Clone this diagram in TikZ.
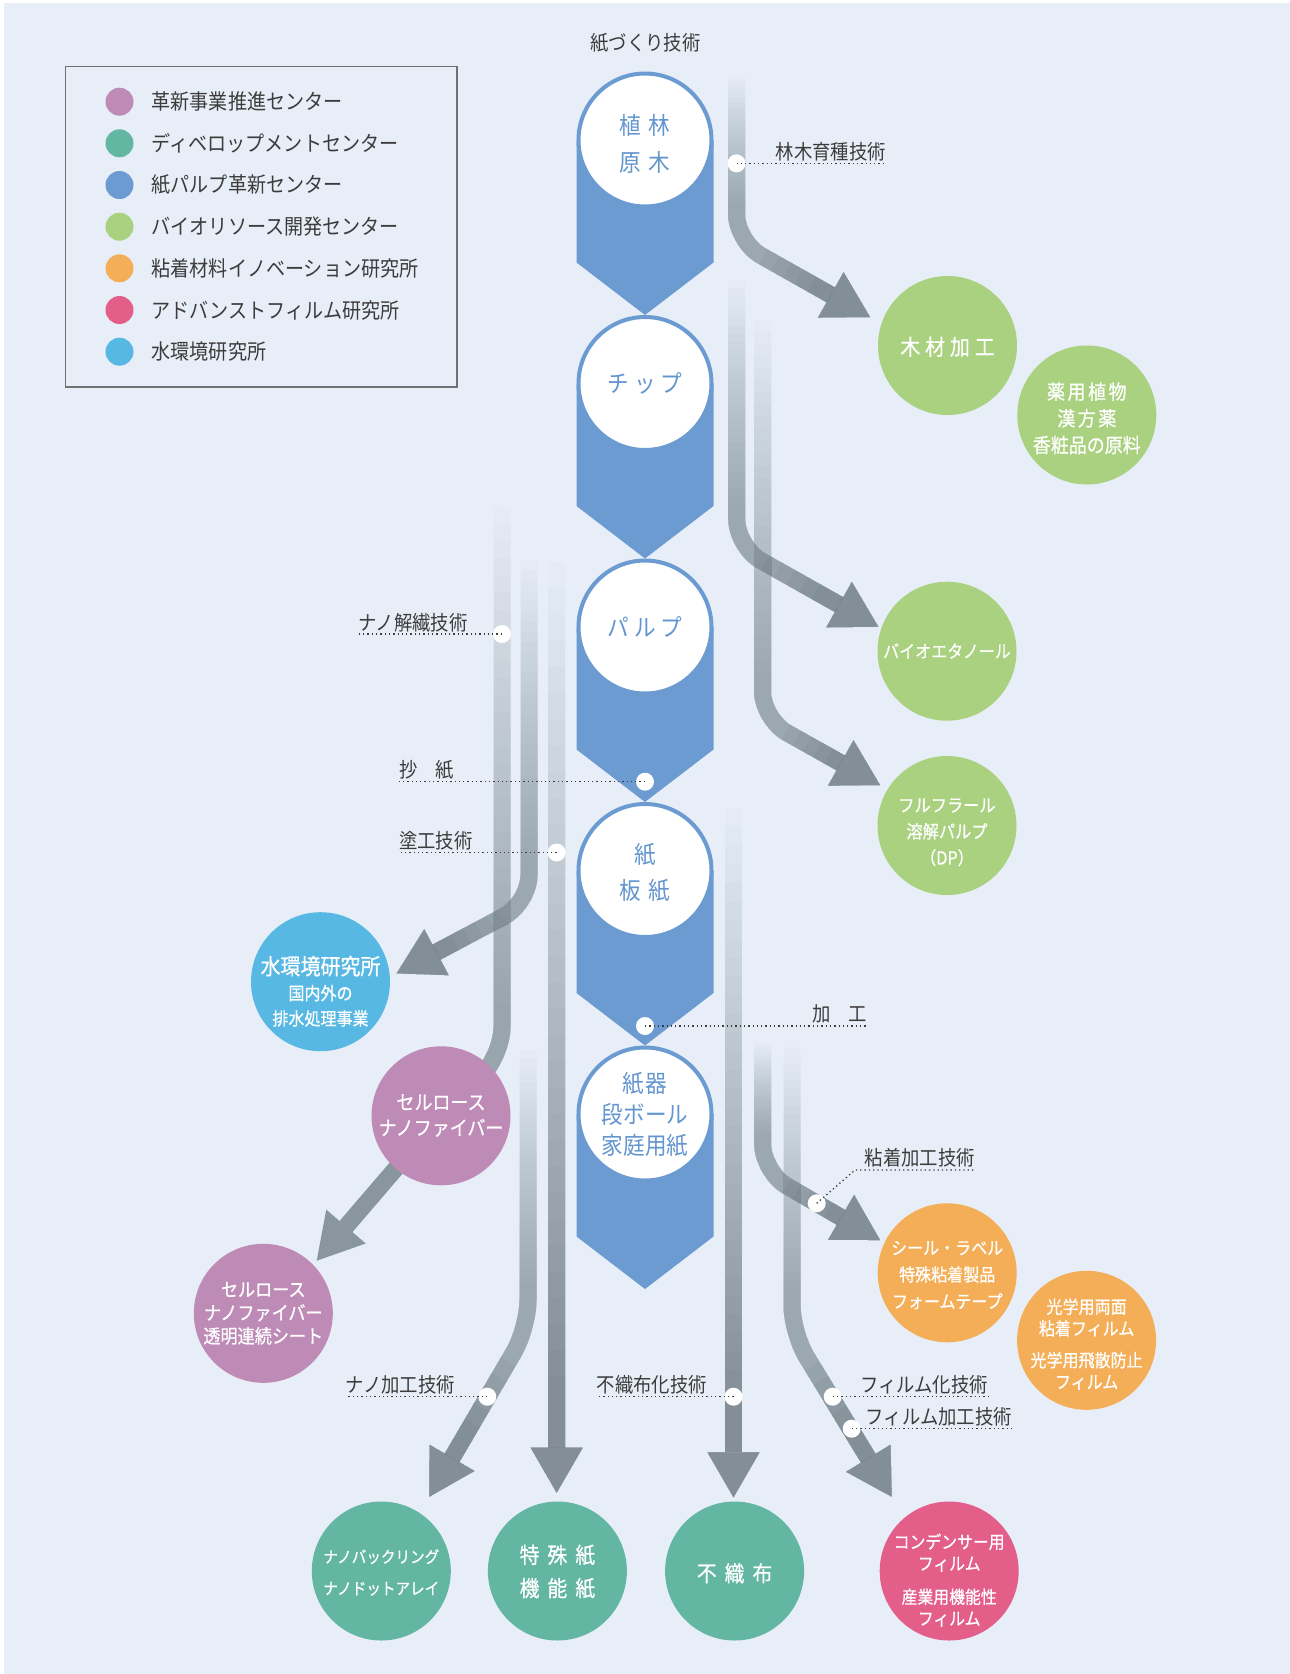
\documentclass[tikz,border=0pt]{standalone}
\usepackage{fontspec}
\newfontfamily\jp[FakeStretch=0.9]{Noto Sans CJK JP}
\newfontfamily\jpb[FakeStretch=0.9,FakeBold=0.7]{Noto Sans CJK JP}
\usetikzlibrary{arrows.meta,calc}
\definecolor{bgc}{HTML}{E8EEF8}
\definecolor{labc}{HTML}{3C3C3C}
\definecolor{boxc}{HTML}{707070}
\definecolor{bluec}{HTML}{6B9BD1}
\definecolor{bluetxt}{HTML}{6395CF}
\definecolor{greenc}{HTML}{A9D180}
\definecolor{cyanc}{HTML}{57B8E3}
\definecolor{purplec}{HTML}{BE8AB6}
\definecolor{orangec}{HTML}{F4AE57}
\definecolor{tealc}{HTML}{62B6A2}
\definecolor{pinkc}{HTML}{E45E8A}
\definecolor{bandc}{HTML}{76838A}
\newcommand\jpfs[2]{\fontsize{#1}{#2}\selectfont}
% bent band: #1 start, #2 corner, #3 tip
\newcommand\mkband[3]{%
  \foreach \k in {0,...,29}{%
    \pgfmathsetmacro\bop{(0.6/30)/(1-0.6*\k/30)}%
    \draw[bandlayer, tipped, opacity=\bop] ($(#1)!\k/30!($(#2)+(0,-35)$)$) -- (#2) -- (#3);
  }%
  \foreach \j/\f in {0/0.2,1/0.29,2/0.38,3/0.47,4/0.56}{%
    \pgfmathsetmacro\bop{(0.25/5)/(1-0.6-0.25*\j/5)}%
    \draw[bandlayer, tipped, opacity=\bop] ($(#2)!\f!(#3)$) -- (#3);
  }%
}
% straight band: #1 start, #2 tip
\newcommand\mkstraight[2]{%
  \foreach \k in {0,...,31}{%
    \pgfmathsetmacro\bop{(0.85/32)/(1-0.85*\k/32)}%
    \draw[bandlayer, tipped, opacity=\bop] ($(#1)!\k/32!($(#2)+(0,-90)$)$) -- (#2);
  }%
}
% feeding band without tip: #1 start, #2 corner, #3 end
\newcommand\mkfeed[3]{%
  \foreach \k in {0,...,29}{%
    \pgfmathsetmacro\bop{(0.62/30)/(1-0.62*\k/30)}%
    \draw[bandlayer, opacity=\bop] ($(#1)!\k/30!($(#2)+(0,-35)$)$) -- (#2) -- (#3);
  }%
}
\begin{document}
\begin{tikzpicture}[x=1pt,y=-1pt,
  lbl/.style={inner sep=0pt, text=labc, font={\jp\jpfs{20.4}{24}}},
  legtxt/.style={inner sep=0pt, anchor=west, text=labc, font={\jp\jpfs{21.2}{24}}},
  legdot/.style={circle, inner sep=0pt, minimum size=28pt},
  bub/.style={circle, inner sep=0pt, minimum size=139pt},
  btxt/.style={inner sep=0pt, text=white, align=center},
  stage/.style={circle, inner sep=0pt, minimum size=133pt, fill=white, draw=bluec, line width=4pt},
  stxt/.style={inner sep=0pt, text=bluetxt, align=center},
  wdot/.style={circle, fill=white, inner sep=0pt, minimum size=18pt},
  leader/.style={draw=labc, line width=1.3pt, dash pattern=on 1.3pt off 3pt},
  bandlayer/.style={draw=bandc, line width=17pt, rounded corners=28pt},
  tipped/.style={-{Triangle[width=52pt,length=45pt,line width=0pt]}},
]
\useasboundingbox (0,0) rectangle (1290,1674);
\fill[white] (0,0) rectangle (1290,1674);
\fill[bgc] (4,3) rectangle (1290,1674);

% legend
\draw[boxc, line width=1.2pt] (65.5,66.7) rectangle (457,387);
\foreach \yy/\cc/\lbtext [count=\i] in {101.7/purplec/革新事業推進センター,
  143.3/tealc/ディベロップメントセンター, 185/bluec/紙パルプ革新センター,
  226.7/greenc/バイオリソース開発センター, 268.3/orangec/粘着材料イノベーション研究所,
  310/pinkc/アドバンストフィルム研究所, 351.7/cyanc/水環境研究所}{
  \node[legdot, fill=\cc] (ld\i) at (119.5,\yy) {};
  \node[legtxt] (lt\i) at (151.5,\yy) {\lbtext};
}

% band coordinates
\coordinate (As) at (736.5,76);   \coordinate (Ac) at (736.5,241.7); \coordinate (At) at (870,317);
\coordinate (Bs) at (736.7,280);  \coordinate (Bc) at (736.7,547);   \coordinate (Bt) at (878.3,626.7);
\coordinate (Cs) at (762.5,320);  \coordinate (Cc) at (762.5,719);   \coordinate (Ct) at (880,785);
\coordinate (Ds) at (502,507);    \coordinate (Dc) at (502,1055);
\coordinate (Es) at (529,560);    \coordinate (Ec) at (529,903);     \coordinate (Et) at (396.7,973.3);
\coordinate (Fs) at (556.7,562);  \coordinate (Ft) at (556.7,1492.7);
\coordinate (Gs) at (528,1050);   \coordinate (Gc) at (528,1328);    \coordinate (Gt) at (429.3,1496.7);
\coordinate (Hs) at (733.5,808);  \coordinate (Ht) at (733.5,1497.3);
\coordinate (Is) at (762.7,1043); \coordinate (Ic) at (762.7,1172);  \coordinate (It) at (880,1240);
\coordinate (Js) at (792,1047);   \coordinate (Jc) at (792,1333);    \coordinate (Jt) at (891.7,1496.7);
\coordinate (cnfc) at (441,1115.8);
\coordinate (Kt) at (316.7,1260.7);

% bands
\mkband{As}{Ac}{At}
\mkband{Bs}{Bc}{Bt}
\mkband{Cs}{Cc}{Ct}
\mkfeed{Ds}{Dc}{cnfc}
\mkband{Es}{Ec}{Et}
\mkstraight{Fs}{Ft}
\mkband{Gs}{Gc}{Gt}
\mkstraight{Hs}{Ht}
\mkband{Is}{Ic}{It}
\mkband{Js}{Jc}{Jt}
\draw[bandlayer, tipped, opacity=0.82] (cnfc) -- (Kt);

% colored circles
\node[bub, fill=greenc] (mokuzai) at (947.5,345.5) {};
\node[bub, fill=greenc] (yakuyo) at (1086.8,415) {};
\node[bub, fill=greenc] (bioeth) at (947,651.2) {};
\node[bub, fill=greenc] (furf) at (947,825.5) {};
\node[bub, fill=cyanc] (suikan) at (320.5,981.7) {};
\node[bub, fill=purplec] (cnf) at (cnfc) {};
\node[bub, fill=purplec] (sheet) at (263.3,1313.3) {};
\node[bub, fill=orangec] (seal) at (947.2,1272.8) {};
\node[bub, fill=orangec] (kogaku) at (1086.6,1340.3) {};
\node[bub, fill=tealc] (nanobuck) at (381.3,1571) {};
\node[bub, fill=tealc] (tokushu) at (557.4,1571) {};
\node[bub, fill=tealc] (fushoku) at (734.6,1571) {};
\node[bub, fill=pinkc] (conden) at (949.2,1571) {};

% central column
\foreach \c in {140,383.5,627,870.5,1114}{
  \fill[bluec] (576.5,\c) -- (713.5,\c) -- (713.5,\c+122.5) -- (645,\c+175) -- (576.5,\c+122.5) -- cycle;
}
\node[stage] (s1) at (645,140) {};
\node[stage] (s2) at (645,383.5) {};
\node[stage] (s3) at (645,627) {};
\node[stage] (s4) at (645,870.5) {};
\node[stage] (s5) at (645,1114) {};
\node[stxt, font={\jp\jpfs{24}{37}}] (s1-t) at (645,144) {植\hspace{7pt}林\\原\hspace{7pt}木};
\node[stxt, font={\jp\jpfs{24}{30}}] (s2-t) at (645,383.5) {チ\hspace{5pt}ッ\hspace{5pt}プ};
\node[stxt, font={\jp\jpfs{24}{30}}] (s3-t) at (645,627) {パ\hspace{5pt}ル\hspace{5pt}プ};
\node[stxt, font={\jp\jpfs{24}{35.6}}] (s4-t) at (645,872.5) {紙\\板\hspace{7pt}紙};
\node[stxt, font={\jp\jpfs{24}{31}}] (s5-t) at (645,1114.5) {紙\hspace{2pt}器\\段ボール\\家庭用紙};

% circle texts
\node[btxt, font={\jpb\jpfs{22}{26}}] (mokuzai-t) at (947.5,346.7) {木\hspace{5pt}材\hspace{5pt}加\hspace{5pt}工};
\node[btxt, font={\jpb\jpfs{20}{26.7}}] (yakuyo-t) at (1086.8,418.3) {薬\hspace{2.5pt}用\hspace{2.5pt}植\hspace{2.5pt}物\\漢\hspace{2.5pt}方\hspace{2.5pt}薬\\香粧品の原料};
\node[btxt, font={\jpb\jpfs{17.8}{22}}] (bioeth-t) at (947,651) {バイオエタノール};
\node[btxt, font={\jpb\jpfs{18}{26.3}}] (furf-t) at (947,832.3) {フルフラール\\溶解パルプ\\（DP）};
\node[btxt, font={\jpb\jpfs{17.8}{25.3}}] (suikan-t) at (320.5,991.3) {{\jpfs{22.2}{25.3}水環境研究所}\\国内外の\\排水処理事業};
\node[btxt, font={\jpb\jpfs{20}{25.6}}] (cnf-t) at (441,1115.5) {セルロース\\ナノファイバー};
\node[btxt, font={\jpb\jpfs{19}{23.3}}] (sheet-t) at (263.3,1313.3) {セルロース\\ナノファイバー\\透明連続シート};
\node[btxt, font={\jpb\jpfs{17.8}{26.8}}] (seal-t) at (947.2,1275) {シール・ラベル\\特殊粘着製品\\フォームテープ};
\node[btxt, font={\jpb\jpfs{17.8}{21.7}}] (kogaku-t) at (1086.6,1344.2) {光学用両面\\粘着フィルム\\[10pt]光学用飛散防止\\フィルム};
\node[btxt, font={\jpb\jpfs{16.2}{31.6}}] (nanobuck-t) at (381.3,1572.5) {ナノバックリング\\ナノドットアレイ};
\node[btxt, font={\jpb\jpfs{22}{33.3}}] (tokushu-t) at (557.4,1571.7) {特\hspace{8pt}殊\hspace{8pt}紙\\機\hspace{8pt}能\hspace{8pt}紙};
\node[btxt, font={\jpb\jpfs{22}{26}}] (fushoku-t) at (734.6,1573.3) {不\hspace{8pt}織\hspace{8pt}布};
\node[btxt, font={\jpb\jpfs{17.6}{21.6}}] (conden-t) at (949.2,1580) {コンデンサー用\\フィルム\\[11.8pt]産業用機能性\\フィルム};

% top label
\node[lbl] (toplbl) at (645.5,42.5) {紙づくり技術};

% technology labels with dots and leaders
\node[wdot] (d1) at (736.5,163.3) {};
\node[lbl, anchor=base east] (t1) at (886,159.5) {林木育種技術};
\draw[leader] (d1.center) -- (d1.center -| t1.east);

\node[wdot] (d2) at (502,634) {};
\node[lbl, anchor=base west] (t2) at (358,630) {ナノ解繊技術};
\draw[leader] (d2.center) -- (d2.center -| t2.west);

\node[wdot] (d3) at (645,781.7) {};
\node[lbl, anchor=base west] (t3) at (399,777.5) {抄　紙};
\draw[leader] (d3.center) -- (d3.center -| t3.west);

\node[wdot] (d4) at (556.7,852.5) {};
\node[lbl, anchor=base west] (t4) at (399,848.3) {塗工技術};
\draw[leader] (d4.center) -- (d4.center -| t4.west);

\node[wdot] (d5) at (645,1026) {};
\node[lbl, anchor=base east] (t5) at (867.3,1021.8) {加　工};
\draw[leader] (d5.center) -- (d5.center -| t5.east);

\node[wdot] (d6) at (816.7,1203.3) {};
\node[lbl, anchor=base east] (t6) at (975,1165.5) {粘着加工技術};
\coordinate (k6) at (855,1170);
\draw[leader] (d6.center) -- (k6) -- (k6 -| t6.east);

\node[wdot] (d7) at (487.3,1396.7) {};
\node[lbl, anchor=base west] (t7) at (345.5,1392.5) {ナノ加工技術};
\draw[leader] (d7.center) -- (d7.center -| t7.west);

\node[wdot] (d8) at (733.5,1396.7) {};
\node[lbl, anchor=base west] (t8) at (596.5,1392.5) {不織布化技術};
\draw[leader] (d8.center) -- (d8.center -| t8.west);

\node[wdot] (d9) at (832.7,1396.7) {};
\node[lbl, anchor=base east] (t9) at (988,1392.5) {フィルム化技術};
\draw[leader] (d9.center) -- (d9.center -| t9.east);

\node[wdot] (d10) at (851.7,1428.7) {};
\node[lbl, anchor=base east] (t10) at (1012,1424.5) {フィルム加工技術};
\draw[leader] (d10.center) -- (d10.center -| t10.east);
\end{tikzpicture}
\end{document}
